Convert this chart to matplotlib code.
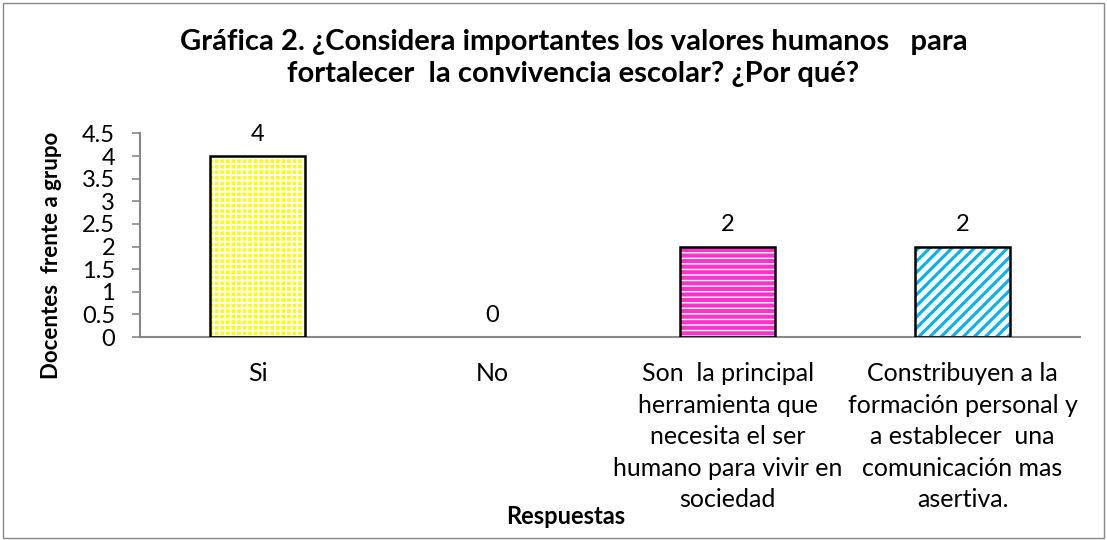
import numpy as np
import matplotlib.pyplot as plt
from matplotlib.patches import Rectangle

categorias = ["Si", "No",
              "Son  la principal\nherramienta que\nnecesita el ser\nhumano para vivir en\nsociedad",
              "Constribuyen a la\nformación personal y\na establecer  una\ncomunicación mas\nasertiva."]
valores = [4, 0, 2, 2]
yticks = [0, 0.5, 1, 1.5, 2, 2.5, 3, 3.5, 4, 4.5]
yticklabels = ["0", "0.5", "1", "1.5", "2", "2.5", "3", "3.5", "4", "4.5"]

plt.rcParams['font.family'] = ['Lato', 'DejaVu Sans']

fig = plt.figure(figsize=(11.07, 5.4), dpi=100)
ax = fig.add_axes([0.1265, 0.3759, 0.8492, 0.377])

x = np.arange(len(valores))
w = 0.404
# (relleno, color de trama, trama, grosor de trama)
fills = [("#FFFF00", "white", "+++", 1.4), None,
         ("#FF33CC", "white", "---", 1.0), ("white", "#00B0F0", "///", 2.2)]
for i, v in enumerate(valores):
    if v == 0:
        continue
    face, hcol, hatch, hlw = fills[i]
    plt.rcParams['hatch.linewidth'] = hlw
    ax.bar(x[i], v, w, color=face, edgecolor=hcol, hatch=hatch, linewidth=0, zorder=2)
    ax.bar(x[i], v, w, fill=False, edgecolor="black", linewidth=1.8, zorder=3)

for i, v in enumerate(valores):
    ax.text(x[i], v + 0.25, str(v), ha="center", va="bottom", fontsize=17)

ax.set_xlim(-0.5, len(valores) - 0.5)
ax.set_ylim(0, 4.5)
ax.set_yticks(yticks)
ax.set_yticklabels(yticklabels, fontsize=17)
ax.set_xticks(x)
ax.set_xticklabels(categorias, fontsize=18, linespacing=1.45, va="top")
ax.tick_params(axis="x", length=0, pad=18)
ax.tick_params(axis="y", length=6, width=1.2, color="#888888", pad=12)
for s in ["top", "right"]:
    ax.spines[s].set_visible(False)
for s in ["bottom", "left"]:
    ax.spines[s].set_color("#888888")
    ax.spines[s].set_linewidth(1.5)

ax.set_ylabel("Docentes  frente a grupo", fontsize=16, fontweight="bold")
ax.yaxis.set_label_coords(-0.083, 0.40)
fig.text(0.511, 0.043, "Respuestas", ha="center", va="center", fontsize=17, fontweight="bold")
fig.text(0.518, 0.893, "Gráfica 2. ¿Considera importantes los valores humanos   para\nfortalecer  la convivencia escolar? ¿Por qué?",
         ha="center", va="center", fontsize=21, fontweight="bold", linespacing=1.3)

fig.patches.append(Rectangle((0.003, 0.004), 0.994, 0.99, transform=fig.transFigure,
                             fill=False, edgecolor="#888888", linewidth=1))
fig.savefig("out.png", dpi=100)
